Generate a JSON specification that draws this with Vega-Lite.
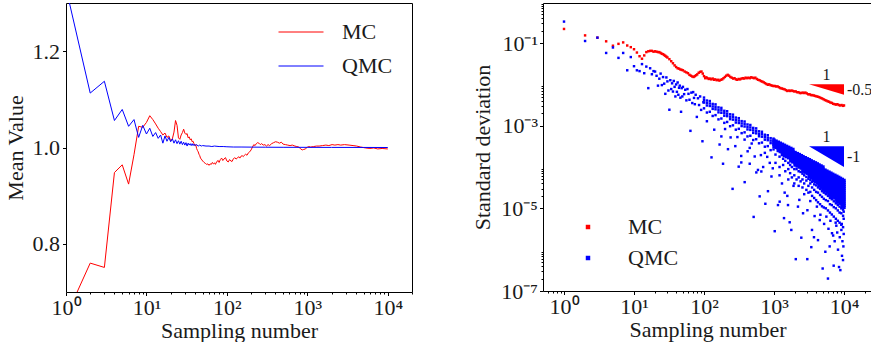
{
"$schema":"https://vega.github.io/schema/vega-lite/v6.json",
"background":"white",
"padding":{"left":3,"top":2,"right":0,"bottom":0},
"spacing":58,
"config":{
"view":{"stroke":"#000","strokeWidth":1},
"axis":{"domain":false,"grid":false,"labelFont":"Liberation Serif","titleFont":"Liberation Serif","labelFontSize":22,"titleFontSize":22,"titleFontWeight":"normal","labelColor":"#1a1a1a","titleColor":"#1a1a1a","tickColor":"#000","tickWidth":1,"labelFlush":false,"labelOverlap":false,"labelBound":false},
"legend":{"labelFont":"Liberation Serif","labelFontSize":22,"labelColor":"#1a1a1a","padding":0}
},
"resolve":{"scale":{"color":"independent"},"legend":{"color":"independent"}},
"datasets":{
"mean":[
{"n":1,"v":0.649,"m":"MC"},{"n":2,"v":0.76,"m":"MC"},{"n":3,"v":0.751,"m":"MC"},{"n":4,"v":0.948,"m":"MC"},{"n":5,"v":0.964,"m":"MC"},{"n":6,"v":0.924,"m":"MC"},{"n":7,"v":0.985,"m":"MC"},{"n":8,"v":1.044,"m":"MC"},{"n":9,"v":1.042,"m":"MC"},{"n":10,"v":1.052,"m":"MC"},{"n":11,"v":1.066,"m":"MC"},{"n":12,"v":1.058,"m":"MC"},{"n":13,"v":1.049,"m":"MC"},{"n":14,"v":1.04,"m":"MC"},{"n":15,"v":1.033,"m":"MC"},{"n":16,"v":1.026,"m":"MC"},{"n":17,"v":1.03,"m":"MC"},{"n":18,"v":1.021,"m":"MC"},{"n":19,"v":1.024,"m":"MC"},{"n":20,"v":1.014,"m":"MC"},{"n":21,"v":1.018,"m":"MC"},{"n":22,"v":1.032,"m":"MC"},{"n":23,"v":1.056,"m":"MC"},{"n":24,"v":1.046,"m":"MC"},{"n":25,"v":1.02,"m":"MC"},{"n":26,"v":1.017,"m":"MC"},{"n":27,"v":1.026,"m":"MC"},{"n":28,"v":1.031,"m":"MC"},{"n":29,"v":1.038,"m":"MC"},{"n":30,"v":1.03,"m":"MC"},{"n":31,"v":1.027,"m":"MC"},{"n":32,"v":1.029,"m":"MC"},{"n":33,"v":1.02,"m":"MC"},{"n":34,"v":1.022,"m":"MC"},{"n":35,"v":1.016,"m":"MC"},{"n":36,"v":1.018,"m":"MC"},{"n":37,"v":1.012,"m":"MC"},{"n":38,"v":1.013,"m":"MC"},{"n":39,"v":1.008,"m":"MC"},{"n":40,"v":1.004,"m":"MC"},{"n":41,"v":1.006,"m":"MC"},{"n":42,"v":0.998,"m":"MC"},{"n":43,"v":0.994,"m":"MC"},{"n":44,"v":0.991,"m":"MC"},{"n":45,"v":0.986,"m":"MC"},{"n":46,"v":0.983,"m":"MC"},{"n":47,"v":0.978,"m":"MC"},{"n":48,"v":0.976,"m":"MC"},{"n":50,"v":0.972,"m":"MC"},{"n":52,"v":0.969,"m":"MC"},{"n":54,"v":0.967,"m":"MC"},{"n":56,"v":0.965,"m":"MC"},{"n":58,"v":0.966,"m":"MC"},{"n":60,"v":0.963,"m":"MC"},{"n":62,"v":0.966,"m":"MC"},{"n":64,"v":0.965,"m":"MC"},{"n":66,"v":0.969,"m":"MC"},{"n":68,"v":0.966,"m":"MC"},{"n":70,"v":0.968,"m":"MC"},{"n":72,"v":0.965,"m":"MC"},{"n":75,"v":0.971,"m":"MC"},{"n":78,"v":0.973,"m":"MC"},{"n":80,"v":0.969,"m":"MC"},{"n":83,"v":0.975,"m":"MC"},{"n":86,"v":0.978,"m":"MC"},{"n":89,"v":0.973,"m":"MC"},{"n":92,"v":0.976,"m":"MC"},{"n":96,"v":0.979,"m":"MC"},{"n":100,"v":0.972,"m":"MC"},{"n":104,"v":0.97,"m":"MC"},{"n":108,"v":0.975,"m":"MC"},{"n":112,"v":0.972,"m":"MC"},{"n":116,"v":0.971,"m":"MC"},{"n":120,"v":0.976,"m":"MC"},{"n":125,"v":0.979,"m":"MC"},{"n":130,"v":0.976,"m":"MC"},{"n":135,"v":0.978,"m":"MC"},{"n":140,"v":0.981,"m":"MC"},{"n":145,"v":0.978,"m":"MC"},{"n":150,"v":0.982,"m":"MC"},{"n":155,"v":0.983,"m":"MC"},{"n":160,"v":0.981,"m":"MC"},{"n":165,"v":0.984,"m":"MC"},{"n":170,"v":0.986,"m":"MC"},{"n":178,"v":0.984,"m":"MC"},{"n":185,"v":0.989,"m":"MC"},{"n":192,"v":0.991,"m":"MC"},{"n":200,"v":0.995,"m":"MC"},{"n":208,"v":1.001,"m":"MC"},{"n":216,"v":1.006,"m":"MC"},{"n":224,"v":1.004,"m":"MC"},{"n":232,"v":1.008,"m":"MC"},{"n":240,"v":1.01,"m":"MC"},{"n":250,"v":1.009,"m":"MC"},{"n":260,"v":1.006,"m":"MC"},{"n":270,"v":1.008,"m":"MC"},{"n":283,"v":1.005,"m":"MC"},{"n":297,"v":1.006,"m":"MC"},{"n":310,"v":1.003,"m":"MC"},{"n":325,"v":1.006,"m":"MC"},{"n":340,"v":1.004,"m":"MC"},{"n":360,"v":1.008,"m":"MC"},{"n":380,"v":1.01,"m":"MC"},{"n":403,"v":1.012,"m":"MC"},{"n":425,"v":1.011,"m":"MC"},{"n":450,"v":1.009,"m":"MC"},{"n":475,"v":1.011,"m":"MC"},{"n":500,"v":1.007,"m":"MC"},{"n":535,"v":1.006,"m":"MC"},{"n":570,"v":1.005,"m":"MC"},{"n":610,"v":1.004,"m":"MC"},{"n":650,"v":1.005,"m":"MC"},{"n":700,"v":1.003,"m":"MC"},{"n":740,"v":1.002,"m":"MC"},{"n":785,"v":1.001,"m":"MC"},{"n":825,"v":0.997,"m":"MC"},{"n":865,"v":0.995,"m":"MC"},{"n":900,"v":0.996,"m":"MC"},{"n":950,"v":0.997,"m":"MC"},{"n":1000,"v":1.001,"m":"MC"},{"n":1040,"v":1.002,"m":"MC"},{"n":1100,"v":1.001,"m":"MC"},{"n":1200,"v":1.002,"m":"MC"},{"n":1300,"v":1.003,"m":"MC"},{"n":1400,"v":1.003,"m":"MC"},{"n":1550,"v":1.004,"m":"MC"},{"n":1700,"v":1.005,"m":"MC"},{"n":1850,"v":1.004,"m":"MC"},{"n":2030,"v":1.006,"m":"MC"},{"n":2200,"v":1.005,"m":"MC"},{"n":2400,"v":1.006,"m":"MC"},{"n":2600,"v":1.005,"m":"MC"},{"n":2900,"v":1.006,"m":"MC"},{"n":3300,"v":1.005,"m":"MC"},{"n":3700,"v":1.004,"m":"MC"},{"n":4100,"v":1.003,"m":"MC"},{"n":4600,"v":1.001,"m":"MC"},{"n":5300,"v":0.999,"m":"MC"},{"n":6000,"v":0.998,"m":"MC"},{"n":6700,"v":0.999,"m":"MC"},{"n":7500,"v":0.997,"m":"MC"},{"n":8500,"v":0.998,"m":"MC"},{"n":10000,"v":0.997,"m":"MC"},
{"n":1,"v":1.331,"m":"QMC"},{"n":2,"v":1.113,"m":"QMC"},{"n":3,"v":1.1375,"m":"QMC"},{"n":4,"v":1.056,"m":"QMC"},{"n":5,"v":1.079,"m":"QMC"},{"n":6,"v":1.044,"m":"QMC"},{"n":7,"v":1.058,"m":"QMC"},{"n":8,"v":1.021,"m":"QMC"},{"n":9,"v":1.046,"m":"QMC"},{"n":10,"v":1.028,"m":"QMC"},{"n":11,"v":1.04,"m":"QMC"},{"n":12,"v":1.023,"m":"QMC"},{"n":13,"v":1.031,"m":"QMC"},{"n":14,"v":1.019,"m":"QMC"},{"n":15,"v":1.026,"m":"QMC"},{"n":16,"v":1.009,"m":"QMC"},{"n":17,"v":1.024,"m":"QMC"},{"n":18,"v":1.013,"m":"QMC"},{"n":19,"v":1.021,"m":"QMC"},{"n":20,"v":1.012,"m":"QMC"},{"n":21,"v":1.018,"m":"QMC"},{"n":22,"v":1.009,"m":"QMC"},{"n":23,"v":1.016,"m":"QMC"},{"n":24,"v":1.008,"m":"QMC"},{"n":25,"v":1.014,"m":"QMC"},{"n":26,"v":1.007,"m":"QMC"},{"n":27,"v":1.013,"m":"QMC"},{"n":28,"v":1.006,"m":"QMC"},{"n":29,"v":1.011,"m":"QMC"},{"n":30,"v":1.005,"m":"QMC"},{"n":31,"v":1.01,"m":"QMC"},{"n":32,"v":1.003,"m":"QMC"},{"n":33,"v":1.009,"m":"QMC"},{"n":34,"v":1.005,"m":"QMC"},{"n":35,"v":1.008,"m":"QMC"},{"n":36,"v":1.004,"m":"QMC"},{"n":37,"v":1.008,"m":"QMC"},{"n":38,"v":1.004,"m":"QMC"},{"n":39,"v":1.007,"m":"QMC"},{"n":40,"v":1.004,"m":"QMC"},{"n":42,"v":1.006,"m":"QMC"},{"n":44,"v":1.003,"m":"QMC"},{"n":46,"v":1.005,"m":"QMC"},{"n":48,"v":1.003,"m":"QMC"},{"n":50,"v":1.004,"m":"QMC"},{"n":55,"v":1.003,"m":"QMC"},{"n":60,"v":1.003,"m":"QMC"},{"n":65,"v":1.002,"m":"QMC"},{"n":70,"v":1.003,"m":"QMC"},{"n":80,"v":1.002,"m":"QMC"},{"n":90,"v":1.002,"m":"QMC"},{"n":100,"v":1.0015,"m":"QMC"},{"n":120,"v":1.001,"m":"QMC"},{"n":150,"v":1.001,"m":"QMC"},{"n":200,"v":1.0008,"m":"QMC"},{"n":300,"v":1.0006,"m":"QMC"},{"n":500,"v":1.0004,"m":"QMC"},{"n":1000,"v":1.0003,"m":"QMC"},{"n":2000,"v":1.0002,"m":"QMC"},{"n":5000,"v":1.0001,"m":"QMC"},{"n":10000,"v":1.0,"m":"QMC"}
],
"std":[
{"n":1,"s":0.219,"m":"MC"},{"n":2,"s":0.153,"m":"MC"},{"n":3,"s":0.135,"m":"MC"},{"n":4,"s":0.11,"m":"MC"},{"n":5,"s":0.0861,"m":"MC"},{"n":6,"s":0.0955,"m":"MC"},{"n":7,"s":0.1035,"m":"MC"},{"n":8,"s":0.0871,"m":"MC"},{"n":9,"s":0.0794,"m":"MC"},{"n":10,"s":0.0708,"m":"MC"},{"n":11,"s":0.0589,"m":"MC"},{"n":12,"s":0.0479,"m":"MC"},{"n":13,"s":0.0417,"m":"MC"},{"n":14,"s":0.0501,"m":"MC"},{"n":15,"s":0.0603,"m":"MC"},{"n":16,"s":0.0631,"m":"MC"},{"n":17,"s":0.0646,"m":"MC"},{"n":18,"s":0.0646,"m":"MC"},{"n":19,"s":0.0617,"m":"MC"},{"n":20,"s":0.0631,"m":"MC"},{"n":21,"s":0.0617,"m":"MC"},{"n":22,"s":0.0603,"m":"MC"},{"n":23,"s":0.0603,"m":"MC"},{"n":24,"s":0.0575,"m":"MC"},{"n":25,"s":0.055,"m":"MC"},{"n":26,"s":0.0537,"m":"MC"},{"n":27,"s":0.0513,"m":"MC"},{"n":28,"s":0.049,"m":"MC"},{"n":29,"s":0.0468,"m":"MC"},{"n":30,"s":0.0447,"m":"MC"},{"n":32,"s":0.0407,"m":"MC"},{"n":34,"s":0.0363,"m":"MC"},{"n":36,"s":0.0324,"m":"MC"},{"n":38,"s":0.0288,"m":"MC"},{"n":40,"s":0.0263,"m":"MC"},{"n":42,"s":0.0245,"m":"MC"},{"n":44,"s":0.024,"m":"MC"},{"n":46,"s":0.0229,"m":"MC"},{"n":48,"s":0.0224,"m":"MC"},{"n":50,"s":0.0219,"m":"MC"},{"n":53,"s":0.0204,"m":"MC"},{"n":56,"s":0.0195,"m":"MC"},{"n":59,"s":0.0186,"m":"MC"},{"n":62,"s":0.017,"m":"MC"},{"n":65,"s":0.0162,"m":"MC"},{"n":68,"s":0.0155,"m":"MC"},{"n":71,"s":0.0151,"m":"MC"},{"n":74,"s":0.0158,"m":"MC"},{"n":77,"s":0.0166,"m":"MC"},{"n":80,"s":0.0174,"m":"MC"},{"n":84,"s":0.0191,"m":"MC"},{"n":88,"s":0.02,"m":"MC"},{"n":92,"s":0.0204,"m":"MC"},{"n":96,"s":0.0182,"m":"MC"},{"n":100,"s":0.0158,"m":"MC"},{"n":104,"s":0.0141,"m":"MC"},{"n":108,"s":0.0148,"m":"MC"},{"n":112,"s":0.0141,"m":"MC"},{"n":117,"s":0.0135,"m":"MC"},{"n":122,"s":0.0138,"m":"MC"},{"n":127,"s":0.0132,"m":"MC"},{"n":133,"s":0.0138,"m":"MC"},{"n":139,"s":0.0129,"m":"MC"},{"n":145,"s":0.0132,"m":"MC"},{"n":152,"s":0.0126,"m":"MC"},{"n":159,"s":0.0129,"m":"MC"},{"n":166,"s":0.0123,"m":"MC"},{"n":174,"s":0.0129,"m":"MC"},{"n":182,"s":0.0132,"m":"MC"},{"n":190,"s":0.0141,"m":"MC"},{"n":199,"s":0.0151,"m":"MC"},{"n":208,"s":0.0162,"m":"MC"},{"n":218,"s":0.017,"m":"MC"},{"n":228,"s":0.0162,"m":"MC"},{"n":238,"s":0.0151,"m":"MC"},{"n":249,"s":0.0145,"m":"MC"},{"n":261,"s":0.0138,"m":"MC"},{"n":273,"s":0.0141,"m":"MC"},{"n":286,"s":0.0132,"m":"MC"},{"n":299,"s":0.0129,"m":"MC"},{"n":313,"s":0.0135,"m":"MC"},{"n":328,"s":0.0132,"m":"MC"},{"n":343,"s":0.0138,"m":"MC"},{"n":359,"s":0.0141,"m":"MC"},{"n":376,"s":0.0138,"m":"MC"},{"n":393,"s":0.0145,"m":"MC"},{"n":412,"s":0.0141,"m":"MC"},{"n":431,"s":0.0145,"m":"MC"},{"n":451,"s":0.0141,"m":"MC"},{"n":472,"s":0.0148,"m":"MC"},{"n":494,"s":0.0145,"m":"MC"},{"n":517,"s":0.0141,"m":"MC"},{"n":541,"s":0.0145,"m":"MC"},{"n":567,"s":0.0135,"m":"MC"},{"n":593,"s":0.0129,"m":"MC"},{"n":621,"s":0.0126,"m":"MC"},{"n":650,"s":0.012,"m":"MC"},{"n":680,"s":0.0117,"m":"MC"},{"n":712,"s":0.0112,"m":"MC"},{"n":745,"s":0.0107,"m":"MC"},{"n":780,"s":0.0102,"m":"MC"},{"n":817,"s":0.00977,"m":"MC"},{"n":855,"s":0.01,"m":"MC"},{"n":895,"s":0.00955,"m":"MC"},{"n":937,"s":0.00933,"m":"MC"},{"n":981,"s":0.00912,"m":"MC"},{"n":1027,"s":0.00912,"m":"MC"},{"n":1075,"s":0.00891,"m":"MC"},{"n":1125,"s":0.00891,"m":"MC"},{"n":1178,"s":0.00851,"m":"MC"},{"n":1233,"s":0.00813,"m":"MC"},{"n":1291,"s":0.00794,"m":"MC"},{"n":1351,"s":0.00776,"m":"MC"},{"n":1414,"s":0.00759,"m":"MC"},{"n":1480,"s":0.00724,"m":"MC"},{"n":1550,"s":0.00692,"m":"MC"},{"n":1622,"s":0.00708,"m":"MC"},{"n":1698,"s":0.00692,"m":"MC"},{"n":1778,"s":0.00708,"m":"MC"},{"n":1861,"s":0.00692,"m":"MC"},{"n":1948,"s":0.00676,"m":"MC"},{"n":2040,"s":0.00676,"m":"MC"},{"n":2135,"s":0.00646,"m":"MC"},{"n":2235,"s":0.00646,"m":"MC"},{"n":2340,"s":0.00617,"m":"MC"},{"n":2449,"s":0.00617,"m":"MC"},{"n":2564,"s":0.00631,"m":"MC"},{"n":2684,"s":0.00617,"m":"MC"},{"n":2810,"s":0.00631,"m":"MC"},{"n":2941,"s":0.00603,"m":"MC"},{"n":3079,"s":0.00575,"m":"MC"},{"n":3223,"s":0.00575,"m":"MC"},{"n":3374,"s":0.0055,"m":"MC"},{"n":3532,"s":0.0055,"m":"MC"},{"n":3697,"s":0.00537,"m":"MC"},{"n":3870,"s":0.00525,"m":"MC"},{"n":4051,"s":0.00513,"m":"MC"},{"n":4241,"s":0.00501,"m":"MC"},{"n":4439,"s":0.0049,"m":"MC"},{"n":4647,"s":0.00468,"m":"MC"},{"n":4865,"s":0.00457,"m":"MC"},{"n":5093,"s":0.00437,"m":"MC"},{"n":5331,"s":0.00417,"m":"MC"},{"n":5580,"s":0.00407,"m":"MC"},{"n":5841,"s":0.00389,"m":"MC"},{"n":6115,"s":0.0038,"m":"MC"},{"n":6401,"s":0.00363,"m":"MC"},{"n":6701,"s":0.00355,"m":"MC"},{"n":7015,"s":0.00339,"m":"MC"},{"n":7343,"s":0.00331,"m":"MC"},{"n":7687,"s":0.00324,"m":"MC"},{"n":8047,"s":0.00331,"m":"MC"},{"n":8424,"s":0.00316,"m":"MC"},{"n":8818,"s":0.00309,"m":"MC"},{"n":9231,"s":0.00316,"m":"MC"},{"n":9663,"s":0.00302,"m":"MC"},{"n":10000,"s":0.00309,"m":"MC"},
{"n":1,"s":0.33,"m":"QMC"},{"n":2,"s":0.112,"m":"QMC"},{"n":3,"s":0.135,"m":"QMC"},{"n":4,"s":0.0575,"m":"QMC"},{"n":5,"s":0.078,"m":"QMC"},{"n":6,"s":0.0437,"m":"QMC"},{"n":7,"s":0.0575,"m":"QMC"},{"n":8,"s":0.0219,"m":"QMC"},{"n":9,"s":0.0457,"m":"QMC"},{"n":10,"s":0.0275,"m":"QMC"},{"n":11,"s":0.0219,"m":"QMC"},{"n":12,"s":0.0209,"m":"QMC"},{"n":13,"s":0.0309,"m":"QMC"},{"n":14,"s":0.0186,"m":"QMC"},{"n":15,"s":0.0269,"m":"QMC"},{"n":16,"s":0.0081,"m":"QMC"},{"n":17,"s":0.0245,"m":"QMC"},
{"n":18,"s":0.01756,"m":"QMC"},{"n":19,"s":0.0209,"m":"QMC"},{"n":20,"s":0.0204,"m":"QMC"},{"n":21,"s":0.0161,"m":"QMC"},{"n":22,"s":0.0093,"m":"QMC"},{"n":23,"s":0.0137,"m":"QMC"},{"n":24,"s":0.0182,"m":"QMC"},{"n":25,"s":0.0096,"m":"QMC"},{"n":26,"s":0.015,"m":"QMC"},{"n":27,"s":0.0104,"m":"QMC"},{"n":28,"s":0.0059,"m":"QMC"},{"n":29,"s":0.0147,"m":"QMC"},{"n":30,"s":0.0118,"m":"QMC"},{"n":31,"s":0.0071,"m":"QMC"},{"n":32,"s":0.00243,"m":"QMC"},{"n":33,"s":0.0126,"m":"QMC"},{"n":34,"s":0.0077,"m":"QMC"},{"n":35,"s":0.0106,"m":"QMC"},{"n":36,"s":0.0067,"m":"QMC"},{"n":37,"s":0.0121,"m":"QMC"},{"n":38,"s":0.0087,"m":"QMC"},{"n":39,"s":0.0051,"m":"QMC"},{"n":40,"s":0.00995,"m":"QMC"},{"n":41,"s":0.0066,"m":"QMC"},{"n":42,"s":0.0111,"m":"QMC"},{"n":43,"s":0.0056,"m":"QMC"},{"n":44,"s":0.00825,"m":"QMC"},{"n":45,"s":0.0093,"m":"QMC"},{"n":46,"s":0.00476,"m":"QMC"},{"n":47,"s":0.00217,"m":"QMC"},{"n":48,"s":0.0081,"m":"QMC"},{"n":49,"s":0.0051,"m":"QMC"},{"n":50,"s":0.0087,"m":"QMC"},{"n":52,"s":0.0058,"m":"QMC"},{"n":54,"s":0.0074,"m":"QMC"},{"n":56,"s":0.0041,"m":"QMC"},{"n":58,"s":0.0077,"m":"QMC"},{"n":60,"s":0.0059,"m":"QMC"},{"n":62,"s":0.00424,"m":"QMC"},{"n":64,"s":0.00075,"m":"QMC"},{"n":66,"s":0.0063,"m":"QMC"},{"n":68,"s":0.00353,"m":"QMC"},{"n":70,"s":0.0065,"m":"QMC"},{"n":72,"s":0.0047,"m":"QMC"},{"n":74,"s":0.00331,"m":"QMC"},{"n":76,"s":0.0056,"m":"QMC"},{"n":79,"s":0.00163,"m":"QMC"},{"n":82,"s":0.0046,"m":"QMC"},{"n":85,"s":0.00316,"m":"QMC"},{"n":88,"s":0.0051,"m":"QMC"},{"n":91,"s":0.00241,"m":"QMC"},{"n":95,"s":0.00042,"m":"QMC"},{"n":98,"s":0.0037,"m":"QMC"},
{"n":100,"s":0.00479,"m":"QMC"},{"n":100,"s":0.00417,"m":"QMC"},{"n":100,"s":0.00363,"m":"QMC"},{"n":110,"s":0.00406,"m":"QMC"},{"n":110,"s":0.00354,"m":"QMC"},{"n":110,"s":0.00308,"m":"QMC"},{"n":121,"s":0.00395,"m":"QMC"},{"n":121,"s":0.00344,"m":"QMC"},{"n":121,"s":0.003,"m":"QMC"},{"n":133,"s":0.00336,"m":"QMC"},{"n":133,"s":0.00292,"m":"QMC"},{"n":133,"s":0.00255,"m":"QMC"},{"n":146,"s":0.00328,"m":"QMC"},{"n":146,"s":0.00286,"m":"QMC"},{"n":146,"s":0.00249,"m":"QMC"},{"n":161,"s":0.00277,"m":"QMC"},{"n":161,"s":0.00242,"m":"QMC"},{"n":161,"s":0.0021,"m":"QMC"},{"n":177,"s":0.0027,"m":"QMC"},{"n":177,"s":0.00236,"m":"QMC"},{"n":177,"s":0.00205,"m":"QMC"},{"n":195,"s":0.00229,"m":"QMC"},{"n":195,"s":0.002,"m":"QMC"},{"n":195,"s":0.00174,"m":"QMC"},{"n":214,"s":0.00224,"m":"QMC"},{"n":214,"s":0.00195,"m":"QMC"},{"n":214,"s":0.0017,"m":"QMC"},{"n":236,"s":0.00189,"m":"QMC"},{"n":236,"s":0.00165,"m":"QMC"},{"n":236,"s":0.00144,"m":"QMC"},{"n":259,"s":0.00185,"m":"QMC"},{"n":259,"s":0.00161,"m":"QMC"},{"n":259,"s":0.0014,"m":"QMC"},{"n":285,"s":0.00157,"m":"QMC"},{"n":285,"s":0.00136,"m":"QMC"},{"n":285,"s":0.00119,"m":"QMC"},{"n":314,"s":0.00152,"m":"QMC"},{"n":314,"s":0.00133,"m":"QMC"},{"n":314,"s":0.00116,"m":"QMC"},{"n":345,"s":0.00129,"m":"QMC"},{"n":345,"s":0.00113,"m":"QMC"},{"n":345,"s":0.00098,"m":"QMC"},{"n":380,"s":0.00126,"m":"QMC"},{"n":380,"s":0.0011,"m":"QMC"},{"n":380,"s":0.000955,"m":"QMC"},{"n":418,"s":0.00107,"m":"QMC"},{"n":418,"s":0.000931,"m":"QMC"},{"n":418,"s":0.000811,"m":"QMC"},{"n":459,"s":0.00104,"m":"QMC"},{"n":459,"s":0.000908,"m":"QMC"},{"n":459,"s":0.000791,"m":"QMC"},{"n":505,"s":0.000885,"m":"QMC"},{"n":505,"s":0.000771,"m":"QMC"},{"n":505,"s":0.000671,"m":"QMC"},{"n":556,"s":0.000861,"m":"QMC"},{"n":556,"s":0.00075,"m":"QMC"},{"n":556,"s":0.000653,"m":"QMC"},{"n":611,"s":0.000731,"m":"QMC"},{"n":611,"s":0.000637,"m":"QMC"},{"n":611,"s":0.000555,"m":"QMC"},{"n":672,"s":0.000713,"m":"QMC"},{"n":672,"s":0.000621,"m":"QMC"},{"n":672,"s":0.000541,"m":"QMC"},{"n":740,"s":0.000604,"m":"QMC"},{"n":740,"s":0.000526,"m":"QMC"},{"n":740,"s":0.000458,"m":"QMC"},{"n":814,"s":0.000587,"m":"QMC"},{"n":814,"s":0.000512,"m":"QMC"},{"n":814,"s":0.000446,"m":"QMC"},{"n":895,"s":0.000499,"m":"QMC"},{"n":895,"s":0.000435,"m":"QMC"},{"n":895,"s":0.000378,"m":"QMC"},{"n":985,"s":0.000486,"m":"QMC"},{"n":985,"s":0.000424,"m":"QMC"},{"n":985,"s":0.000369,"m":"QMC"},
{"n":100,"s":0.00263,"m":"QMC"},{"n":110,"s":0.00208,"m":"QMC"},{"n":121,"s":0.00217,"m":"QMC"},{"n":133,"s":0.00172,"m":"QMC"},{"n":146,"s":0.0018,"m":"QMC"},{"n":161,"s":0.00142,"m":"QMC"},{"n":177,"s":0.00149,"m":"QMC"},{"n":195,"s":0.00117,"m":"QMC"},{"n":214,"s":0.00123,"m":"QMC"},{"n":236,"s":0.00097,"m":"QMC"},{"n":259,"s":0.00102,"m":"QMC"},{"n":285,"s":0.0008,"m":"QMC"},{"n":314,"s":0.00084,"m":"QMC"},{"n":345,"s":0.00066,"m":"QMC"},{"n":380,"s":0.00069,"m":"QMC"},{"n":418,"s":0.00055,"m":"QMC"},{"n":459,"s":0.00057,"m":"QMC"},{"n":505,"s":0.00045,"m":"QMC"},{"n":556,"s":0.00047,"m":"QMC"},{"n":611,"s":0.000375,"m":"QMC"},{"n":672,"s":0.00039,"m":"QMC"},{"n":740,"s":0.00031,"m":"QMC"},{"n":814,"s":0.00032,"m":"QMC"},{"n":895,"s":0.000256,"m":"QMC"},{"n":985,"s":0.000267,"m":"QMC"},
{"n":110,"s":0.00128,"m":"QMC"},{"n":140,"s":0.0008,"m":"QMC"},{"n":167,"s":0.00035,"m":"QMC"},{"n":177,"s":0.00055,"m":"QMC"},{"n":200,"s":0.00083,"m":"QMC"},{"n":220,"s":0.00027,"m":"QMC"},{"n":240,"s":0.00052,"m":"QMC"},{"n":280,"s":0.00032,"m":"QMC"},{"n":300,"s":0.00053,"m":"QMC"},{"n":340,"s":0.000185,"m":"QMC"},{"n":380,"s":0.00046,"m":"QMC"},{"n":420,"s":0.00024,"m":"QMC"},{"n":450,"s":0.00029,"m":"QMC"},{"n":480,"s":0.00037,"m":"QMC"},{"n":530,"s":0.00018,"m":"QMC"},{"n":590,"s":0.000085,"m":"QMC"},{"n":650,"s":0.000194,"m":"QMC"},{"n":700,"s":0.0001,"m":"QMC"},{"n":740,"s":0.00022,"m":"QMC"},{"n":800,"s":0.000176,"m":"QMC"},{"n":870,"s":0.000126,"m":"QMC"},{"n":920,"s":0.000059,"m":"QMC"},{"n":960,"s":0.000093,"m":"QMC"},
{"n":128,"s":0.000171,"m":"QMC"},{"n":187,"s":0.00012,"m":"QMC"},{"n":256,"s":0.0000296,"m":"QMC"},{"n":313,"s":0.000102,"m":"QMC"},{"n":341,"s":0.000129,"m":"QMC"},{"n":381,"s":0.000043,"m":"QMC"},{"n":450,"s":0.00012,"m":"QMC"},{"n":512,"s":0.0000062,"m":"QMC"},{"n":559,"s":0.000074,"m":"QMC"},{"n":624,"s":0.0000195,"m":"QMC"},{"n":659,"s":0.000078,"m":"QMC"},{"n":752,"s":0.0000129,"m":"QMC"},{"n":820,"s":0.000026,"m":"QMC"},
{"n":1050,"s":2.0e-4,"m":"QMC"},{"n":1050,"s":1.26e-4,"m":"QMC"},{"n":1200,"s":1.78e-4,"m":"QMC"},{"n":1200,"s":1.0e-4,"m":"QMC"},{"n":1200,"s":6.3e-5,"m":"QMC"},{"n":1350,"s":1.58e-4,"m":"QMC"},{"n":1350,"s":1.12e-4,"m":"QMC"},{"n":1450,"s":1.41e-4,"m":"QMC"},{"n":1450,"s":7.9e-5,"m":"QMC"},{"n":1600,"s":1.26e-4,"m":"QMC"},{"n":1600,"s":8.9e-5,"m":"QMC"},{"n":1600,"s":5.0e-5,"m":"QMC"},{"n":1700,"s":1.12e-4,"m":"QMC"},{"n":1700,"s":7.1e-5,"m":"QMC"},{"n":1800,"s":1.0e-4,"m":"QMC"},{"n":1800,"s":5.6e-5,"m":"QMC"},{"n":1950,"s":8.9e-5,"m":"QMC"},{"n":1950,"s":6.3e-5,"m":"QMC"},{"n":1950,"s":4.0e-5,"m":"QMC"},{"n":2100,"s":8.9e-5,"m":"QMC"},{"n":2100,"s":5.0e-5,"m":"QMC"},{"n":2250,"s":7.9e-5,"m":"QMC"},{"n":2250,"s":5.6e-5,"m":"QMC"},{"n":2250,"s":3.5e-5,"m":"QMC"},{"n":2400,"s":7.6e-5,"m":"QMC"},{"n":2400,"s":4.5e-5,"m":"QMC"},{"n":2550,"s":6.9e-5,"m":"QMC"},{"n":2550,"s":5.0e-5,"m":"QMC"},{"n":2550,"s":3.2e-5,"m":"QMC"},{"n":2700,"s":6.3e-5,"m":"QMC"},{"n":2700,"s":4.0e-5,"m":"QMC"},{"n":2900,"s":5.75e-5,"m":"QMC"},{"n":2900,"s":4.7e-5,"m":"QMC"},{"n":2900,"s":2.8e-5,"m":"QMC"},{"n":3100,"s":5.2e-5,"m":"QMC"},{"n":3100,"s":3.5e-5,"m":"QMC"},{"n":3100,"s":2.4e-5,"m":"QMC"},{"n":3300,"s":4.8e-5,"m":"QMC"},{"n":3300,"s":4.0e-5,"m":"QMC"},{"n":3300,"s":2.5e-5,"m":"QMC"},{"n":3500,"s":4.4e-5,"m":"QMC"},{"n":3500,"s":3.2e-5,"m":"QMC"},{"n":3500,"s":2.0e-5,"m":"QMC"},{"n":3750,"s":3.8e-5,"m":"QMC"},{"n":3750,"s":2.8e-5,"m":"QMC"},{"n":3750,"s":1.78e-5,"m":"QMC"},{"n":4000,"s":3.6e-5,"m":"QMC"},{"n":4000,"s":2.5e-5,"m":"QMC"},{"n":4000,"s":1.58e-5,"m":"QMC"},{"n":4250,"s":3.2e-5,"m":"QMC"},{"n":4250,"s":2.4e-5,"m":"QMC"},{"n":4250,"s":1.4e-5,"m":"QMC"},{"n":4550,"s":2.95e-5,"m":"QMC"},{"n":4550,"s":2.1e-5,"m":"QMC"},{"n":4550,"s":1.26e-5,"m":"QMC"},{"n":4850,"s":2.6e-5,"m":"QMC"},{"n":4850,"s":1.9e-5,"m":"QMC"},{"n":4850,"s":1.12e-5,"m":"QMC"},{"n":5150,"s":2.4e-5,"m":"QMC"},{"n":5150,"s":1.7e-5,"m":"QMC"},{"n":5150,"s":1.05e-5,"m":"QMC"},{"n":5500,"s":2.2e-5,"m":"QMC"},{"n":5500,"s":1.58e-5,"m":"QMC"},{"n":5500,"s":1.0e-5,"m":"QMC"},{"n":5900,"s":2.0e-5,"m":"QMC"},{"n":5900,"s":1.5e-5,"m":"QMC"},{"n":5900,"s":8.9e-6,"m":"QMC"},{"n":6300,"s":1.78e-5,"m":"QMC"},{"n":6300,"s":1.26e-5,"m":"QMC"},{"n":6300,"s":7.9e-6,"m":"QMC"},{"n":6700,"s":1.66e-5,"m":"QMC"},{"n":6700,"s":1.2e-5,"m":"QMC"},{"n":6700,"s":7.1e-6,"m":"QMC"},{"n":7150,"s":1.48e-5,"m":"QMC"},{"n":7150,"s":1.07e-5,"m":"QMC"},{"n":7150,"s":6.3e-6,"m":"QMC"},{"n":7650,"s":1.32e-5,"m":"QMC"},{"n":7650,"s":1.0e-5,"m":"QMC"},{"n":7650,"s":5.6e-6,"m":"QMC"},{"n":8150,"s":1.2e-5,"m":"QMC"},{"n":8150,"s":8.9e-6,"m":"QMC"},{"n":8150,"s":5.0e-6,"m":"QMC"},{"n":8650,"s":1.1e-5,"m":"QMC"},{"n":8650,"s":7.9e-6,"m":"QMC"},{"n":8650,"s":4.5e-6,"m":"QMC"},{"n":9150,"s":1.0e-5,"m":"QMC"},{"n":9150,"s":7.6e-6,"m":"QMC"},{"n":9150,"s":4.0e-6,"m":"QMC"},{"n":9700,"s":9.3e-6,"m":"QMC"},{"n":9700,"s":6.6e-6,"m":"QMC"},{"n":9700,"s":3.5e-6,"m":"QMC"},{"n":9900,"s":8.3e-6,"m":"QMC"},{"n":9900,"s":5.6e-6,"m":"QMC"},
{"n":1024,"s":2.8e-6,"m":"QMC"},{"n":1140,"s":1.2e-5,"m":"QMC"},{"n":1205,"s":1.45e-5,"m":"QMC"},{"n":1300,"s":4.0e-5,"m":"QMC"},{"n":1390,"s":5.8e-6,"m":"QMC"},{"n":1420,"s":2.4e-5,"m":"QMC"},{"n":1550,"s":2.0e-5,"m":"QMC"},{"n":1585,"s":1.2e-5,"m":"QMC"},{"n":1675,"s":4.6e-6,"m":"QMC"},{"n":1767,"s":3.0e-6,"m":"QMC"},{"n":1900,"s":3.5e-5,"m":"QMC"},{"n":2048,"s":5.9e-7,"m":"QMC"},{"n":2200,"s":1.1e-5,"m":"QMC"},{"n":2300,"s":1.6e-5,"m":"QMC"},{"n":2455,"s":1.95e-6,"m":"QMC"},{"n":2600,"s":7.6e-6,"m":"QMC"},{"n":2700,"s":2.2e-5,"m":"QMC"},{"n":2990,"s":5.9e-7,"m":"QMC"},{"n":3000,"s":9.0e-6,"m":"QMC"},{"n":3300,"s":1.5e-5,"m":"QMC"},{"n":3410,"s":1.15e-6,"m":"QMC"},{"n":3490,"s":3.0e-6,"m":"QMC"},{"n":3725,"s":2.0e-6,"m":"QMC"},{"n":3800,"s":6.5e-6,"m":"QMC"},{"n":4100,"s":1.1e-5,"m":"QMC"},{"n":4250,"s":1.7e-6,"m":"QMC"},{"n":4500,"s":5.2e-6,"m":"QMC"},{"n":4600,"s":7.0e-6,"m":"QMC"},{"n":4955,"s":3.5e-7,"m":"QMC"},{"n":5200,"s":4.2e-6,"m":"QMC"},{"n":5410,"s":8.9e-7,"m":"QMC"},{"n":5600,"s":6.3e-6,"m":"QMC"},{"n":5900,"s":2.0e-7,"m":"QMC"},{"n":6000,"s":3.2e-6,"m":"QMC"},{"n":6240,"s":1.2e-6,"m":"QMC"},{"n":6400,"s":5.0e-6,"m":"QMC"},{"n":6740,"s":2.5e-6,"m":"QMC"},{"n":7000,"s":2.2e-6,"m":"QMC"},{"n":7120,"s":4.1e-7,"m":"QMC"},{"n":7360,"s":1.6e-6,"m":"QMC"},{"n":7600,"s":4.5e-6,"m":"QMC"},{"n":7770,"s":3.8e-6,"m":"QMC"},{"n":8000,"s":2.6e-6,"m":"QMC"},{"n":8210,"s":1.0e-6,"m":"QMC"},{"n":8490,"s":3.8e-7,"m":"QMC"},{"n":8700,"s":2.0e-6,"m":"QMC"},{"n":8870,"s":3.2e-7,"m":"QMC"},{"n":9170,"s":3.0e-6,"m":"QMC"},{"n":9300,"s":4.2e-6,"m":"QMC"},{"n":9360,"s":7.1e-7,"m":"QMC"},{"n":9500,"s":1.6e-6,"m":"QMC"},{"n":9680,"s":5.6e-7,"m":"QMC"},{"n":9800,"s":1.2e-6,"m":"QMC"},{"n":9900,"s":2.4e-6,"m":"QMC"}
],
"core":[
{"n":1000,"s":4.47e-4},{"n":1000,"s":3.98e-4},{"n":1000,"s":3.55e-4},{"n":1000,"s":3.16e-4},
{"n":1070,"s":4.22e-4},{"n":1070,"s":3.76e-4},{"n":1070,"s":3.35e-4},{"n":1070,"s":2.99e-4},
{"n":1150,"s":3.98e-4},{"n":1150,"s":3.55e-4},{"n":1150,"s":3.16e-4},{"n":1150,"s":2.82e-4},{"n":1150,"s":2.51e-4},
{"n":1230,"s":3.76e-4},{"n":1230,"s":3.35e-4},{"n":1230,"s":2.99e-4},{"n":1230,"s":2.66e-4},{"n":1230,"s":2.37e-4},
{"n":1320,"s":3.55e-4},{"n":1320,"s":3.16e-4},{"n":1320,"s":2.82e-4},{"n":1320,"s":2.51e-4},{"n":1320,"s":2.24e-4},{"n":1320,"s":2.0e-4},
{"n":1410,"s":3.35e-4},{"n":1410,"s":2.99e-4},{"n":1410,"s":2.66e-4},{"n":1410,"s":2.37e-4},{"n":1410,"s":2.11e-4},{"n":1410,"s":1.88e-4},
{"n":1510,"s":3.16e-4},{"n":1510,"s":2.82e-4},{"n":1510,"s":2.51e-4},{"n":1510,"s":2.24e-4},{"n":1510,"s":2.0e-4},{"n":1510,"s":1.78e-4},
{"n":1620,"s":2.99e-4},{"n":1620,"s":2.66e-4},{"n":1620,"s":2.37e-4},{"n":1620,"s":2.11e-4},{"n":1620,"s":1.88e-4},{"n":1620,"s":1.68e-4},
{"n":1740,"s":2.82e-4},{"n":1740,"s":2.51e-4},{"n":1740,"s":2.24e-4},{"n":1740,"s":2.0e-4},{"n":1740,"s":1.78e-4},{"n":1740,"s":1.58e-4},{"n":1740,"s":1.41e-4},
{"n":1860,"s":2.66e-4},{"n":1860,"s":2.37e-4},{"n":1860,"s":2.11e-4},{"n":1860,"s":1.88e-4},{"n":1860,"s":1.68e-4},{"n":1860,"s":1.5e-4},{"n":1860,"s":1.33e-4},
{"n":2000,"s":2.24e-4},{"n":2000,"s":2.0e-4},{"n":2000,"s":1.78e-4},{"n":2000,"s":1.58e-4},{"n":2000,"s":1.41e-4},{"n":2000,"s":1.26e-4},{"n":2000,"s":1.12e-4},
{"n":2150,"s":2.11e-4},{"n":2150,"s":1.88e-4},{"n":2150,"s":1.68e-4},{"n":2150,"s":1.5e-4},{"n":2150,"s":1.33e-4},{"n":2150,"s":1.19e-4},{"n":2150,"s":1.06e-4},
{"n":2300,"s":2.0e-4},{"n":2300,"s":1.78e-4},{"n":2300,"s":1.58e-4},{"n":2300,"s":1.41e-4},{"n":2300,"s":1.26e-4},{"n":2300,"s":1.12e-4},{"n":2300,"s":1.0e-4},
{"n":2450,"s":1.88e-4},{"n":2450,"s":1.68e-4},{"n":2450,"s":1.5e-4},{"n":2450,"s":1.33e-4},{"n":2450,"s":1.19e-4},{"n":2450,"s":1.06e-4},{"n":2450,"s":9.44e-5},
{"n":2600,"s":1.78e-4},{"n":2600,"s":1.58e-4},{"n":2600,"s":1.41e-4},{"n":2600,"s":1.26e-4},{"n":2600,"s":1.12e-4},{"n":2600,"s":1.0e-4},{"n":2600,"s":8.91e-5},{"n":2600,"s":7.94e-5},
{"n":2800,"s":1.68e-4},{"n":2800,"s":1.5e-4},{"n":2800,"s":1.33e-4},{"n":2800,"s":1.19e-4},{"n":2800,"s":1.06e-4},{"n":2800,"s":9.44e-5},{"n":2800,"s":8.41e-5},{"n":2800,"s":7.5e-5},
{"n":3000,"s":1.58e-4},{"n":3000,"s":1.41e-4},{"n":3000,"s":1.26e-4},{"n":3000,"s":1.12e-4},{"n":3000,"s":1.0e-4},{"n":3000,"s":8.91e-5},{"n":3000,"s":7.94e-5},{"n":3000,"s":7.08e-5},
{"n":3200,"s":1.5e-4},{"n":3200,"s":1.33e-4},{"n":3200,"s":1.19e-4},{"n":3200,"s":1.06e-4},{"n":3200,"s":9.44e-5},{"n":3200,"s":8.41e-5},{"n":3200,"s":7.5e-5},{"n":3200,"s":6.68e-5},{"n":3200,"s":5.96e-5},
{"n":3400,"s":1.41e-4},{"n":3400,"s":1.26e-4},{"n":3400,"s":1.12e-4},{"n":3400,"s":1.0e-4},{"n":3400,"s":8.91e-5},{"n":3400,"s":7.94e-5},{"n":3400,"s":7.08e-5},{"n":3400,"s":6.31e-5},{"n":3400,"s":5.62e-5},
{"n":3650,"s":1.33e-4},{"n":3650,"s":1.19e-4},{"n":3650,"s":1.06e-4},{"n":3650,"s":9.44e-5},{"n":3650,"s":8.41e-5},{"n":3650,"s":7.5e-5},{"n":3650,"s":6.68e-5},{"n":3650,"s":5.96e-5},{"n":3650,"s":5.31e-5},{"n":3650,"s":4.73e-5},
{"n":3900,"s":1.26e-4},{"n":3900,"s":1.12e-4},{"n":3900,"s":1.0e-4},{"n":3900,"s":8.91e-5},{"n":3900,"s":7.94e-5},{"n":3900,"s":7.08e-5},{"n":3900,"s":6.31e-5},{"n":3900,"s":5.62e-5},{"n":3900,"s":5.01e-5},{"n":3900,"s":4.47e-5},
{"n":4150,"s":1.19e-4},{"n":4150,"s":1.06e-4},{"n":4150,"s":9.44e-5},{"n":4150,"s":8.41e-5},{"n":4150,"s":7.5e-5},{"n":4150,"s":6.68e-5},{"n":4150,"s":5.96e-5},{"n":4150,"s":5.31e-5},{"n":4150,"s":4.73e-5},{"n":4150,"s":4.22e-5},
{"n":4400,"s":1.12e-4},{"n":4400,"s":1.0e-4},{"n":4400,"s":8.91e-5},{"n":4400,"s":7.94e-5},{"n":4400,"s":7.08e-5},{"n":4400,"s":6.31e-5},{"n":4400,"s":5.62e-5},{"n":4400,"s":5.01e-5},{"n":4400,"s":4.47e-5},{"n":4400,"s":3.98e-5},{"n":4400,"s":3.55e-5},
{"n":4700,"s":1.06e-4},{"n":4700,"s":9.44e-5},{"n":4700,"s":8.41e-5},{"n":4700,"s":7.5e-5},{"n":4700,"s":6.68e-5},{"n":4700,"s":5.96e-5},{"n":4700,"s":5.31e-5},{"n":4700,"s":4.73e-5},{"n":4700,"s":4.22e-5},{"n":4700,"s":3.76e-5},{"n":4700,"s":3.35e-5},
{"n":5000,"s":1.0e-4},{"n":5000,"s":8.91e-5},{"n":5000,"s":7.94e-5},{"n":5000,"s":7.08e-5},{"n":5000,"s":6.31e-5},{"n":5000,"s":5.62e-5},{"n":5000,"s":5.01e-5},{"n":5000,"s":4.47e-5},{"n":5000,"s":3.98e-5},{"n":5000,"s":3.55e-5},{"n":5000,"s":3.16e-5},{"n":5000,"s":2.82e-5},
{"n":5350,"s":8.41e-5},{"n":5350,"s":7.5e-5},{"n":5350,"s":6.68e-5},{"n":5350,"s":5.96e-5},{"n":5350,"s":5.31e-5},{"n":5350,"s":4.73e-5},{"n":5350,"s":4.22e-5},{"n":5350,"s":3.76e-5},{"n":5350,"s":3.35e-5},{"n":5350,"s":2.99e-5},{"n":5350,"s":2.66e-5},
{"n":5700,"s":7.94e-5},{"n":5700,"s":7.08e-5},{"n":5700,"s":6.31e-5},{"n":5700,"s":5.62e-5},{"n":5700,"s":5.01e-5},{"n":5700,"s":4.47e-5},{"n":5700,"s":3.98e-5},{"n":5700,"s":3.55e-5},{"n":5700,"s":3.16e-5},{"n":5700,"s":2.82e-5},{"n":5700,"s":2.51e-5},
{"n":6100,"s":7.5e-5},{"n":6100,"s":6.68e-5},{"n":6100,"s":5.96e-5},{"n":6100,"s":5.31e-5},{"n":6100,"s":4.73e-5},{"n":6100,"s":4.22e-5},{"n":6100,"s":3.76e-5},{"n":6100,"s":3.35e-5},{"n":6100,"s":2.99e-5},{"n":6100,"s":2.66e-5},{"n":6100,"s":2.37e-5},{"n":6100,"s":2.11e-5},
{"n":6500,"s":7.08e-5},{"n":6500,"s":6.31e-5},{"n":6500,"s":5.62e-5},{"n":6500,"s":5.01e-5},{"n":6500,"s":4.47e-5},{"n":6500,"s":3.98e-5},{"n":6500,"s":3.55e-5},{"n":6500,"s":3.16e-5},{"n":6500,"s":2.82e-5},{"n":6500,"s":2.51e-5},{"n":6500,"s":2.24e-5},{"n":6500,"s":2.0e-5},
{"n":6900,"s":6.68e-5},{"n":6900,"s":5.96e-5},{"n":6900,"s":5.31e-5},{"n":6900,"s":4.73e-5},{"n":6900,"s":4.22e-5},{"n":6900,"s":3.76e-5},{"n":6900,"s":3.35e-5},{"n":6900,"s":2.99e-5},{"n":6900,"s":2.66e-5},{"n":6900,"s":2.37e-5},{"n":6900,"s":2.11e-5},{"n":6900,"s":1.88e-5},
{"n":7400,"s":6.31e-5},{"n":7400,"s":5.62e-5},{"n":7400,"s":5.01e-5},{"n":7400,"s":4.47e-5},{"n":7400,"s":3.98e-5},{"n":7400,"s":3.55e-5},{"n":7400,"s":3.16e-5},{"n":7400,"s":2.82e-5},{"n":7400,"s":2.51e-5},{"n":7400,"s":2.24e-5},{"n":7400,"s":2.0e-5},{"n":7400,"s":1.78e-5},
{"n":7900,"s":5.96e-5},{"n":7900,"s":5.31e-5},{"n":7900,"s":4.73e-5},{"n":7900,"s":4.22e-5},{"n":7900,"s":3.76e-5},{"n":7900,"s":3.35e-5},{"n":7900,"s":2.99e-5},{"n":7900,"s":2.66e-5},{"n":7900,"s":2.37e-5},{"n":7900,"s":2.11e-5},{"n":7900,"s":1.88e-5},{"n":7900,"s":1.68e-5},{"n":7900,"s":1.5e-5},
{"n":8400,"s":5.62e-5},{"n":8400,"s":5.01e-5},{"n":8400,"s":4.47e-5},{"n":8400,"s":3.98e-5},{"n":8400,"s":3.55e-5},{"n":8400,"s":3.16e-5},{"n":8400,"s":2.82e-5},{"n":8400,"s":2.51e-5},{"n":8400,"s":2.24e-5},{"n":8400,"s":2.0e-5},{"n":8400,"s":1.78e-5},{"n":8400,"s":1.58e-5},{"n":8400,"s":1.41e-5},
{"n":8900,"s":5.31e-5},{"n":8900,"s":4.73e-5},{"n":8900,"s":4.22e-5},{"n":8900,"s":3.76e-5},{"n":8900,"s":3.35e-5},{"n":8900,"s":2.99e-5},{"n":8900,"s":2.66e-5},{"n":8900,"s":2.37e-5},{"n":8900,"s":2.11e-5},{"n":8900,"s":1.88e-5},{"n":8900,"s":1.68e-5},{"n":8900,"s":1.5e-5},{"n":8900,"s":1.33e-5},
{"n":9450,"s":5.01e-5},{"n":9450,"s":4.47e-5},{"n":9450,"s":3.98e-5},{"n":9450,"s":3.55e-5},{"n":9450,"s":3.16e-5},{"n":9450,"s":2.82e-5},{"n":9450,"s":2.51e-5},{"n":9450,"s":2.24e-5},{"n":9450,"s":2.0e-5},{"n":9450,"s":1.78e-5},{"n":9450,"s":1.58e-5},{"n":9450,"s":1.41e-5},{"n":9450,"s":1.26e-5},{"n":9450,"s":1.12e-5},
{"n":10000,"s":4.73e-5},{"n":10000,"s":4.22e-5},{"n":10000,"s":3.76e-5},{"n":10000,"s":3.35e-5},{"n":10000,"s":2.99e-5},{"n":10000,"s":2.66e-5},{"n":10000,"s":2.37e-5},{"n":10000,"s":2.11e-5},{"n":10000,"s":1.88e-5},{"n":10000,"s":1.68e-5},{"n":10000,"s":1.5e-5},{"n":10000,"s":1.33e-5},{"n":10000,"s":1.19e-5},{"n":10000,"s":1.06e-5}
],
"tri":[{"n":3162,"a":0.01,"b":0.01,"m":"MC"},{"n":10000,"a":0.01,"b":0.005623,"m":"MC"},{"n":3162,"a":0.0003162,"b":0.0003162,"m":"QMC"},{"n":10000,"a":0.0003162,"b":0.0001,"m":"QMC"}],
"lab1":[{"n":5623,"y":0.01,"t":"1"},{"n":5623,"y":0.0003162,"t":"1"}],
"lab2":[{"n":10000,"y":0.0075,"t":"-0.5"},{"n":10000,"y":0.000178,"t":"-1"}]
},
"hconcat":[
{
"width":346,"height":289,
"data":{"name":"mean"},
"mark":{"type":"line","clip":true,"strokeWidth":1},
"encoding":{
"x":{"field":"n","type":"quantitative","scale":{"type":"log","domain":[1,20000],"nice":false},
"axis":{"title":"Sampling number","values":[1,2,3,4,5,6,7,8,9,10,20,30,40,50,60,70,80,90,100,200,300,400,500,600,700,800,900,1000,2000,3000,4000,5000,6000,7000,8000,9000,10000,20000],
"labelExpr":"datum.value==1?'10⁰':datum.value==10?'10¹':datum.value==100?'10²':datum.value==1000?'10³':datum.value==10000?'10⁴':''",
"labelFontSize":{"condition":{"test":"indexof([1,10,100,1000,10000],datum.value)>=0","value":22},"value":0},
"tickSize":{"condition":{"test":"indexof([1,10,100,1000,10000],datum.value)>=0","value":3.5},"value":2},"labelPadding":2,"titlePadding":2}},
"y":{"field":"v","type":"quantitative","scale":{"domain":[0.7,1.3],"nice":false,"zero":false},
"axis":{"title":"Mean Value","values":[0.8,1.0,1.2],"format":".1f","tickSize":3.5,"labelPadding":3,"titlePadding":5}},
"color":{"field":"m","type":"nominal","scale":{"domain":["MC","QMC"],"range":["#ff0000","#0000ff"]},
"legend":{"title":null,"orient":"none","legendX":212,"legendY":6,"symbolType":"stroke","symbolSize":2025,"symbolStrokeWidth":1,"labelOffset":18,"rowPadding":-14}}
}
},
{
"width":329,"height":288,
"encoding":{
"x":{"field":"n","type":"quantitative","scale":{"type":"log","domain":[0.501,25119],"nice":false},
"axis":{"title":"Sampling number","values":[0.5,0.6,0.7,0.8,0.9,1,10,20,30,40,50,60,70,80,90,100,1000,2000,3000,4000,5000,6000,7000,8000,9000,10000,20000],
"labelExpr":"datum.value==1?'10⁰':datum.value==10?'10¹':datum.value==100?'10²':datum.value==1000?'10³':datum.value==10000?'10⁴':''",
"labelFontSize":{"condition":{"test":"indexof([1,10,100,1000,10000],datum.value)>=0","value":22},"value":0},
"tickSize":{"condition":{"test":"indexof([1,10,100,1000,10000],datum.value)>=0","value":3.5},"value":2},"labelPadding":2,"titlePadding":2}}
},
"layer":[
{"data":{"name":"std"},
"mark":{"type":"point","shape":"square","filled":true,"size":6,"opacity":1,"strokeWidth":0,"clip":true},
"encoding":{
"y":{"field":"s","type":"quantitative","scale":{"type":"log","domain":[1e-7,0.93],"nice":false},
"axis":{"title":"Standard deviation","values":[1e-7,2e-7,3e-7,4e-7,5e-7,6e-7,7e-7,8e-7,9e-7,1e-5,2e-5,3e-5,4e-5,5e-5,6e-5,7e-5,8e-5,9e-5,0.001,0.002,0.003,0.004,0.005,0.006,0.007,0.008,0.009,0.1,0.2,0.3,0.4,0.5,0.6,0.7,0.8,0.9],
"labelExpr":"datum.value==0.1?'10⁻¹':datum.value==0.001?'10⁻³':datum.value==0.00001?'10⁻⁵':datum.value==0.0000001?'10⁻⁷':''",
"labelFontSize":{"condition":{"test":"indexof([0.1,0.001,0.00001,0.0000001],datum.value)>=0","value":22},"value":0},
"tickSize":{"condition":{"test":"indexof([0.1,0.001,0.00001,0.0000001],datum.value)>=0","value":3.5},"value":2},"labelPadding":2,"titlePadding":6}},
"color":{"field":"m","type":"nominal","scale":{"domain":["MC","QMC"],"range":["#ff0000","#0000ff"]},
"legend":{"title":null,"orient":"none","legendX":34,"legendY":213,"symbolType":"square","symbolSize":20,"labelOffset":29,"rowPadding":9}}
}},
{"data":{"name":"core"},
"mark":{"type":"point","shape":"square","filled":true,"size":12,"opacity":1,"strokeWidth":0,"clip":true,"color":"#0000ff"},
"encoding":{"y":{"field":"s","type":"quantitative"}}},
{"data":{"name":"tri"},
"mark":{"type":"area","opacity":1,"clip":true},
"encoding":{
"y":{"field":"a","type":"quantitative","stack":null},
"y2":{"field":"b"},
"color":{"field":"m","type":"nominal","legend":null}
}},
{"data":{"name":"lab1"},
"mark":{"type":"text","font":"Liberation Serif","fontSize":16,"color":"#1a1a1a","baseline":"alphabetic","align":"center","dy":-4},
"encoding":{"y":{"field":"y","type":"quantitative"},"text":{"field":"t"}}},
{"data":{"name":"lab2"},
"mark":{"type":"text","font":"Liberation Serif","fontSize":16,"color":"#1a1a1a","baseline":"middle","align":"left","dx":3,"clip":true},
"encoding":{"y":{"field":"y","type":"quantitative"},"text":{"field":"t"}}}
]
}
]
}
